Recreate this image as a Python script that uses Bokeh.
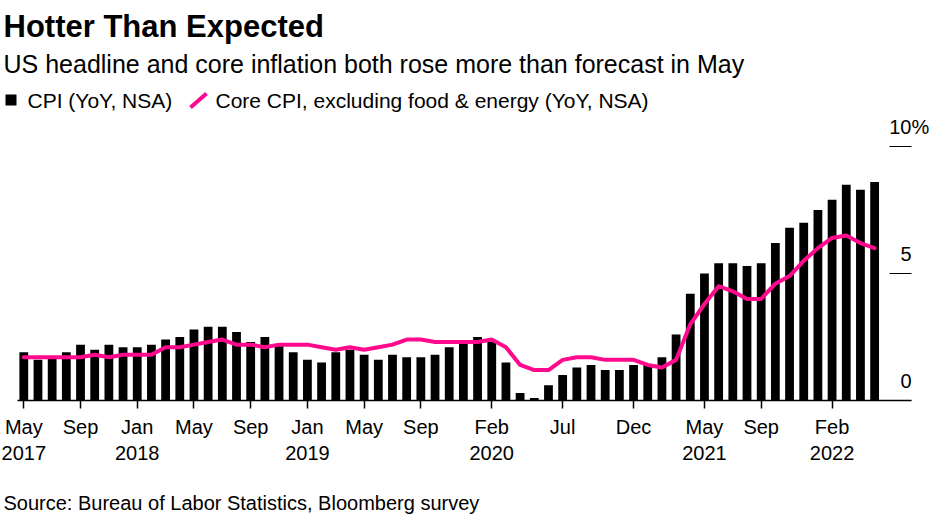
import pandas as pd
from bokeh.plotting import figure
from bokeh.layouts import column
from bokeh.models import Range1d, FixedTicker, LabelSet, ColumnDataSource, LinearAxis
from bokeh.core.properties import value
from bokeh.embed import file_html
from bokeh.resources import INLINE

# ---------------- data ----------------
months = [str(p) for p in pd.period_range("2017-05", "2022-05", freq="M")]

cpi = [1.9, 1.6, 1.7, 1.9, 2.2, 2.0, 2.2, 2.1,
       2.1, 2.2, 2.4, 2.5, 2.8, 2.9, 2.9, 2.7, 2.3, 2.5, 2.2, 1.9,
       1.6, 1.5, 1.9, 2.0, 1.8, 1.6, 1.8, 1.7, 1.7, 1.8, 2.1, 2.3,
       2.5, 2.3, 1.5, 0.3, 0.1, 0.6, 1.0, 1.3, 1.4, 1.2, 1.2, 1.4,
       1.4, 1.7, 2.6, 4.2, 5.0, 5.4, 5.4, 5.3, 5.4, 6.2, 6.8, 7.0,
       7.5, 7.9, 8.5, 8.3, 8.6]

core = [1.7, 1.7, 1.7, 1.7, 1.7, 1.8, 1.7, 1.8,
        1.8, 1.8, 2.1, 2.1, 2.2, 2.3, 2.4, 2.2, 2.2, 2.1, 2.2, 2.2,
        2.2, 2.1, 2.0, 2.1, 2.0, 2.1, 2.2, 2.4, 2.4, 2.3, 2.3, 2.3,
        2.3, 2.4, 2.1, 1.4, 1.2, 1.2, 1.6, 1.7, 1.7, 1.6, 1.6, 1.6,
        1.4, 1.3, 1.6, 3.0, 3.8, 4.5, 4.3, 4.0, 4.0, 4.6, 4.9, 5.5,
        6.0, 6.4, 6.5, 6.2, 6.0]

xtick_months = ["2017-05", "2017-09", "2018-01", "2018-05", "2018-09", "2019-01",
                "2019-05", "2019-09", "2020-02", "2020-07", "2020-12", "2021-05",
                "2021-09", "2022-02"]
xtick_labels = ["May\n2017", "Sep", "Jan\n2018", "May", "Sep", "Jan\n2019",
                "May", "Sep", "Feb\n2020", "Jul", "Dec", "May\n2021",
                "Sep", "Feb\n2022"]

yticks = [0, 5, 10]
ytick_labels = ["0", "5", "10%"]

title = "Hotter Than Expected"
subtitle = "US headline and core inflation both rose more than forecast in May"
series_names = ["CPI (YoY, NSA)", "Core CPI, excluding food & energy (YoY, NSA)"]
source_note = "Source: Bureau of Labor Statistics, Bloomberg survey"

# ---------------- style ----------------
FONT = "Liberation Sans"
PINK = "#ff0a8c"
BLACK = "#000000"

W = 930
HEAD_H, MAIN_H, FOOT_H = 112, 368, 35


def blank(height):
    f = figure(width=W, height=height, x_range=Range1d(0, W), y_range=Range1d(height, 0),
               output_backend="svg", toolbar_location=None, min_border=0,
               x_axis_location=None, y_axis_location=None, title=None)
    f.grid.visible = False
    f.outline_line_color = None
    return f


# ---------------- header ----------------
head = blank(HEAD_H)
head.text(x=[3], y=[26], text=[title], text_font=value(FONT), text_font_style="bold",
          text_font_size="31px", text_color=BLACK, text_baseline="alphabetic")
head.text(x=[3], y=[63], text=[subtitle], text_font=value(FONT),
          text_font_size="25px", text_color=BLACK, text_baseline="alphabetic")
# legend
head.rect(x=[10.5], y=[99.5], width=11, height=11, fill_color=BLACK, line_color=None)
head.text(x=[27], y=[100], text=[series_names[0]], text_font=value(FONT),
          text_font_size="21px", text_color=BLACK, text_baseline="alphabetic")
head.segment(x0=[190], y0=[107], x1=[206], y1=[93], line_color=PINK, line_width=4)
head.text(x=[215], y=[100], text=[series_names[1]], text_font=value(FONT),
          text_font_size="21px", text_color=BLACK, text_baseline="alphabetic")

# ---------------- main chart ----------------
idx = list(range(len(months)))
x_start, x_end = -1.643, 63.94    # frame spans the full width of the page
x_axis_start, x_axis_end = -0.44, 62.6   # where the baseline starts / value axis sits
y_end = 11.34

p = figure(width=W, height=MAIN_H, x_range=Range1d(x_start, x_end), y_range=Range1d(0, y_end),
           output_backend="svg", toolbar_location=None, y_axis_location=None, title=None,
           min_border_left=0, min_border_right=0, min_border_top=0, min_border_bottom=80)
p.grid.visible = False
p.outline_line_color = None
p.background_fill_color = "white"

src = ColumnDataSource(dict(x=idx, month=months, cpi=cpi, core=core))
p.vbar(x="x", top="cpi", width=0.62, source=src, fill_color=BLACK, line_color=None)
p.line(x="x", y="core", source=src, line_color=PINK, line_width=4,
       line_join="round", line_cap="round")

# x axis
xt = [months.index(m) for m in xtick_months]
p.xaxis.ticker = FixedTicker(ticks=xt)
p.xaxis.bounds = (x_axis_start, x_axis_end)
p.xaxis.major_label_overrides = {t: lab for t, lab in zip(xt, xtick_labels)}
p.xaxis.axis_line_color = BLACK
p.xaxis.axis_line_width = 1.5
p.xaxis.major_tick_line_color = BLACK
p.xaxis.major_tick_line_width = 1.5
p.xaxis.major_tick_out = 8
p.xaxis.major_tick_in = 0
p.xaxis.minor_tick_line_color = None
p.xaxis.major_label_standoff = 7
p.xaxis.major_label_text_font = FONT
p.xaxis.major_label_text_font_size = "20px"
p.xaxis.major_label_text_color = BLACK

# value axis: short tick marks just left of the axis end
yaxis = LinearAxis(fixed_location=x_axis_end, ticker=FixedTicker(ticks=yticks))
yaxis.axis_line_color = None
yaxis.major_tick_in = 22
yaxis.major_tick_out = 0
yaxis.major_tick_line_color = BLACK
yaxis.major_tick_line_width = 1.2
yaxis.minor_tick_line_color = None
yaxis.major_label_overrides = {t: "" for t in yticks}
yaxis.major_label_standoff = 0
p.add_layout(yaxis, "right")

pct_w = 0.889 * 20  # width of a "%" glyph at 20px
ylab_src = ColumnDataSource(dict(
    x=[x_axis_end] * len(yticks), y=yticks, text=ytick_labels,
    dx=[pct_w if s.endswith("%") else 0 for s in ytick_labels]))
p.add_layout(LabelSet(x="x", y="y", text="text", source=ylab_src, x_offset="dx", y_offset=13,
                      text_align="right", text_baseline="alphabetic",
                      text_font=value(FONT), text_font_size="20px", text_color=BLACK))

# ---------------- footer ----------------
foot = blank(FOOT_H)
foot.text(x=[3], y=[22], text=[source_note], text_font=value(FONT),
          text_font_size="20px", text_color=BLACK, text_baseline="alphabetic")

layout = column(head, p, foot, spacing=0)
open("out.html", "w").write(file_html(layout, INLINE))
